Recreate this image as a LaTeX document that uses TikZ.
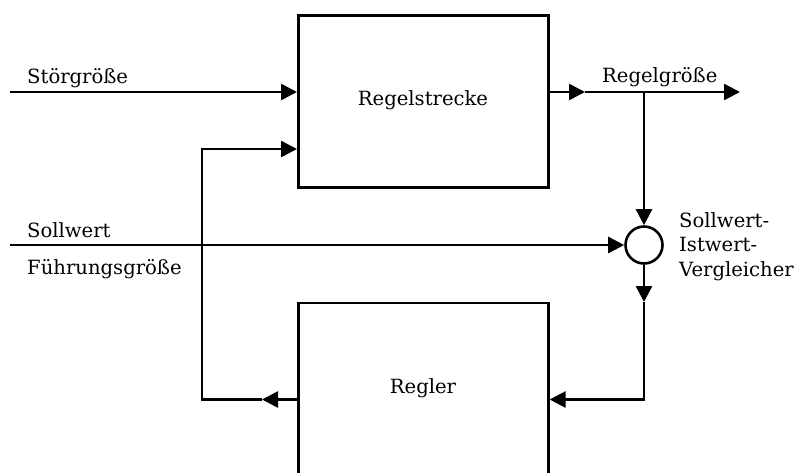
\documentclass[tikz,border=0pt]{standalone}
\usepackage{fontspec}
\setmainfont{DejaVu Serif}
\usetikzlibrary{arrows.meta}
\begin{document}
\begin{tikzpicture}[x=1pt,y=-1pt,
  sig/.style={line width=2.6pt,line join=miter,-{Triangle[length=16pt,width=16pt]}},
  block/.style={draw,line width=2.6pt,minimum width=250pt,inner sep=0pt},
  lbl/.style={font=\fontsize{19.6}{24.5}\selectfont,inner sep=0pt}]
  \useasboundingbox (0,0) rectangle (797,472);
  \clip (0,0) rectangle (797,472);

  % blocks and comparator
  \node[block,minimum height=172pt] (strecke) at (423.3,101.3) {};
  \node[block,minimum height=200pt] (regler) at (423.3,403) {};
  \node[draw,circle,line width=2.6pt,minimum size=37pt,inner sep=0pt] (cmp) at (644,245) {};

  \node[lbl,anchor=base] (tstrecke) at (423,105) {Regelstrecke};
  \node[lbl,anchor=base] (tregler) at (423,393) {Regler};

  % routing points
  \coordinate (stIn) at (10,92);
  \coordinate (sollIn) at (10,245);
  \coordinate (fbTop) at (202,149);
  \coordinate (fbBot) at (202,399.5);
  \coordinate (regMid) at (262,399.5);
  \coordinate (branch) at (644,92);
  \coordinate (outMid) at (585,92);
  \coordinate (outEnd) at (740,92);
  \coordinate (cmpMid) at (644,302);
  \coordinate (corner) at (644,399.5);

  % signal paths
  \draw[sig] (stIn) -- (strecke.west |- stIn);
  \draw[sig] (regler.west |- fbBot) -- (regMid);
  \draw[sig] (regMid) -- (fbBot) -- (fbTop) -- (strecke.west |- fbTop);
  \draw[sig] (strecke.east |- branch) -- (outMid);
  \draw[sig] (outMid) -- (outEnd);
  \draw[sig] (branch) -- (cmp.north);
  \draw[sig] (sollIn) -- (cmp.west);
  \draw[sig] (cmp.south) -- (cmpMid);
  \draw[sig] (cmpMid) -- (corner) -- (regler.east |- corner);

  % signal names
  \node[lbl,anchor=base west] (tstoer) at (27,83) {Störgröße};
  \node[lbl,anchor=base west] (tregel) at (602,82) {Regelgröße};
  \node[lbl,anchor=base west] (tsoll) at (27,237) {Sollwert};
  \node[lbl,anchor=base west] (tfuehr) at (27,274) {Führungsgröße};
  \node[lbl,anchor=base west,align=left] (tvgl) at (679,276) {Sollwert-\\Istwert-\\Vergleicher};
\end{tikzpicture}
\end{document}
